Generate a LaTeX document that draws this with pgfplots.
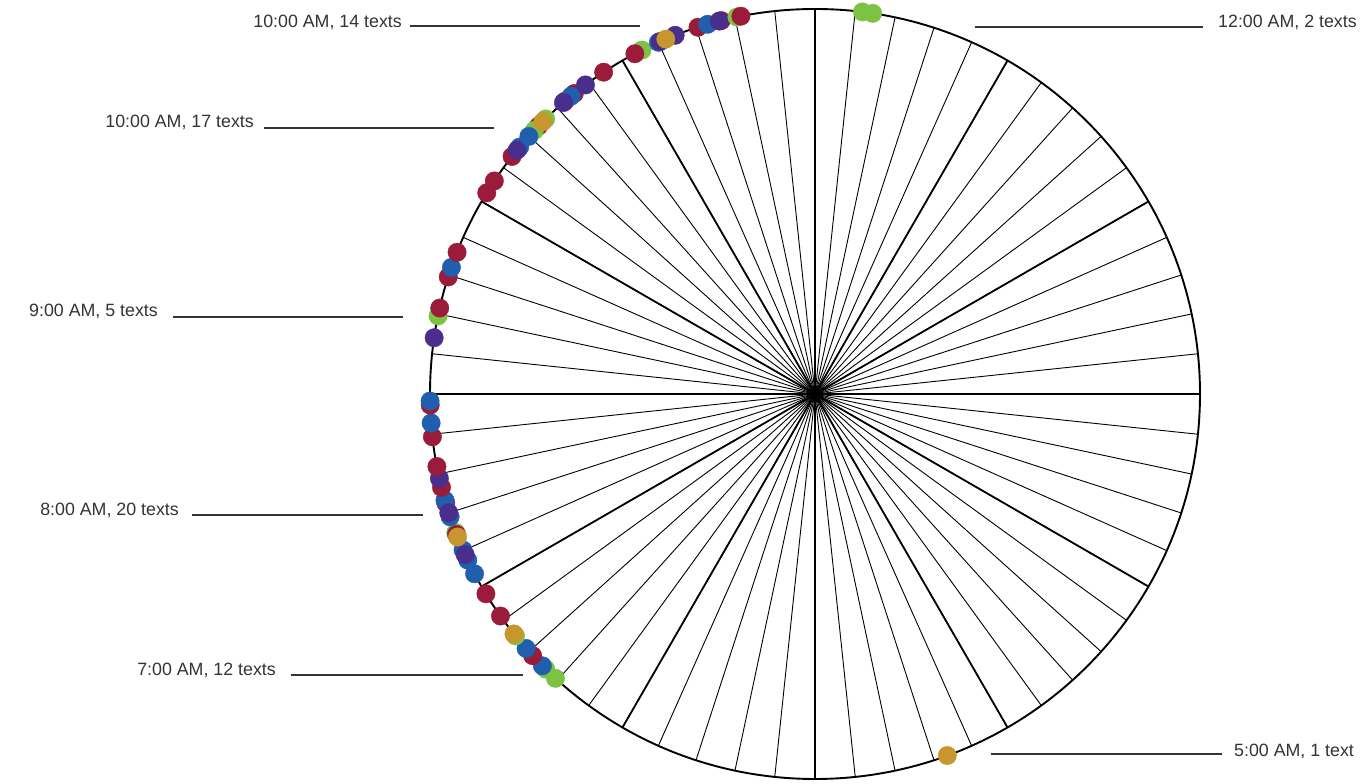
\documentclass[border=0pt]{standalone}
\usepackage{pgfplots}
\pgfplotsset{compat=1.18}
\usepackage{pgfplotstable}
\usepackage{fontspec}
\setmainfont{Liberation Sans}
\definecolor{cred}{HTML}{9B1B3A}
\definecolor{cgreen}{HTML}{7DC243}
\definecolor{cblue}{HTML}{1F5FAE}
\definecolor{cpurple}{HTML}{4A2E8E}
\definecolor{cgold}{HTML}{C8962E}
\definecolor{ctext}{HTML}{333333}
% hour on a 12-hour dial, colour class
\pgfplotstableread{
h c
0.236 g
0.287 g
5.33 o
7.413 g
7.48 g
7.503 b
7.573 r
7.621 b
7.702 g
7.715 o
7.826 r
7.958 r
8.072 b
8.203 b
8.148 b
8.178 p
8.297 g
8.287 r
8.273 o
8.453 r
8.466 b
8.38 b
8.401 p
8.532 r
8.578 p
8.638 r
8.787 r
8.856 b
8.945 r
8.965 b
9.28 p
9.39 g
9.43 r
9.59 r
9.64 b
9.72 r
10.05 r
10.12 r
10.27 r
10.33 b
10.31 p
10.47 r
10.52 g
10.44 g
10.40 b
10.50 o
10.71 r
10.65 r
10.69 b
10.64 p
10.78 p
10.89 r
11.11 g
11.07 r
11.20 b
11.21 p
11.29 p
11.24 o
11.41 r
11.46 b
11.53 r
11.52 p
11.61 g
11.63 r
}\texts
\begin{document}
\begin{tikzpicture}
\useasboundingbox (0,0) rectangle (1361pt,784pt);
\begin{axis}[
  scale only axis, width=1361pt, height=784pt,
  xmin=0, xmax=1361, ymin=-784, ymax=0,
  hide axis, clip=false,
]
\pgfplotsinvokeforeach{0,...,59}{
  \draw[black, line width=0.9pt] (axis cs:815,-394) -- (axis cs:{815+385*sin(#1*6)},{-394+385*cos(#1*6)});
}
\pgfplotsinvokeforeach{0,5,...,55}{
  \draw[black, line width=1.8pt] (axis cs:815,-394) -- (axis cs:{815+385*sin(#1*6)},{-394+385*cos(#1*6)});
}
\draw[black, line width=1.9pt] (axis cs:815,-394) circle [radius=385];
\addplot[only marks, scatter, scatter src=explicit symbolic, mark size=9.2pt,
  scatter/classes={
    r={mark=*, color=cred},
    g={mark=*, color=cgreen},
    b={mark=*, color=cblue},
    p={mark=*, color=cpurple},
    o={mark=*, color=cgold}}]
  table[x expr={815+385*sin(30*\thisrow{h})}, y expr={-394+385*cos(30*\thisrow{h})}, meta=c] {\texts};
% labels
\tikzset{lab/.style={text=ctext, font=\fontsize{17.8}{20}\selectfont, inner sep=0pt}}
\node[lab, anchor=base east] at (axis cs:402,-28) {10:00 AM, 14 texts};
\draw[ctext, line width=1.1pt] (axis cs:410,-26) -- (axis cs:640,-26);
\node[lab, anchor=base east] at (axis cs:254,-128) {10:00 AM, 17 texts};
\draw[ctext, line width=1.1pt] (axis cs:264,-128) -- (axis cs:494,-128);
\node[lab, anchor=base east] at (axis cs:158,-317) {9:00 AM, 5 texts};
\draw[ctext, line width=1.1pt] (axis cs:173,-317) -- (axis cs:403,-317);
\node[lab, anchor=base east] at (axis cs:179,-516) {8:00 AM, 20 texts};
\draw[ctext, line width=1.1pt] (axis cs:192,-515) -- (axis cs:423,-515);
\node[lab, anchor=base east] at (axis cs:276,-676) {7:00 AM, 12 texts};
\draw[ctext, line width=1.1pt] (axis cs:291,-675) -- (axis cs:523,-675);
\node[lab, anchor=base west] at (axis cs:1218,-28) {12:00 AM, 2 texts};
\draw[ctext, line width=1.1pt] (axis cs:975,-27) -- (axis cs:1203,-27);
\node[lab, anchor=base west] at (axis cs:1234,-757) {5:00 AM, 1 text};
\draw[ctext, line width=1.1pt] (axis cs:991,-754) -- (axis cs:1222,-754);
\end{axis}
\end{tikzpicture}
\end{document}
